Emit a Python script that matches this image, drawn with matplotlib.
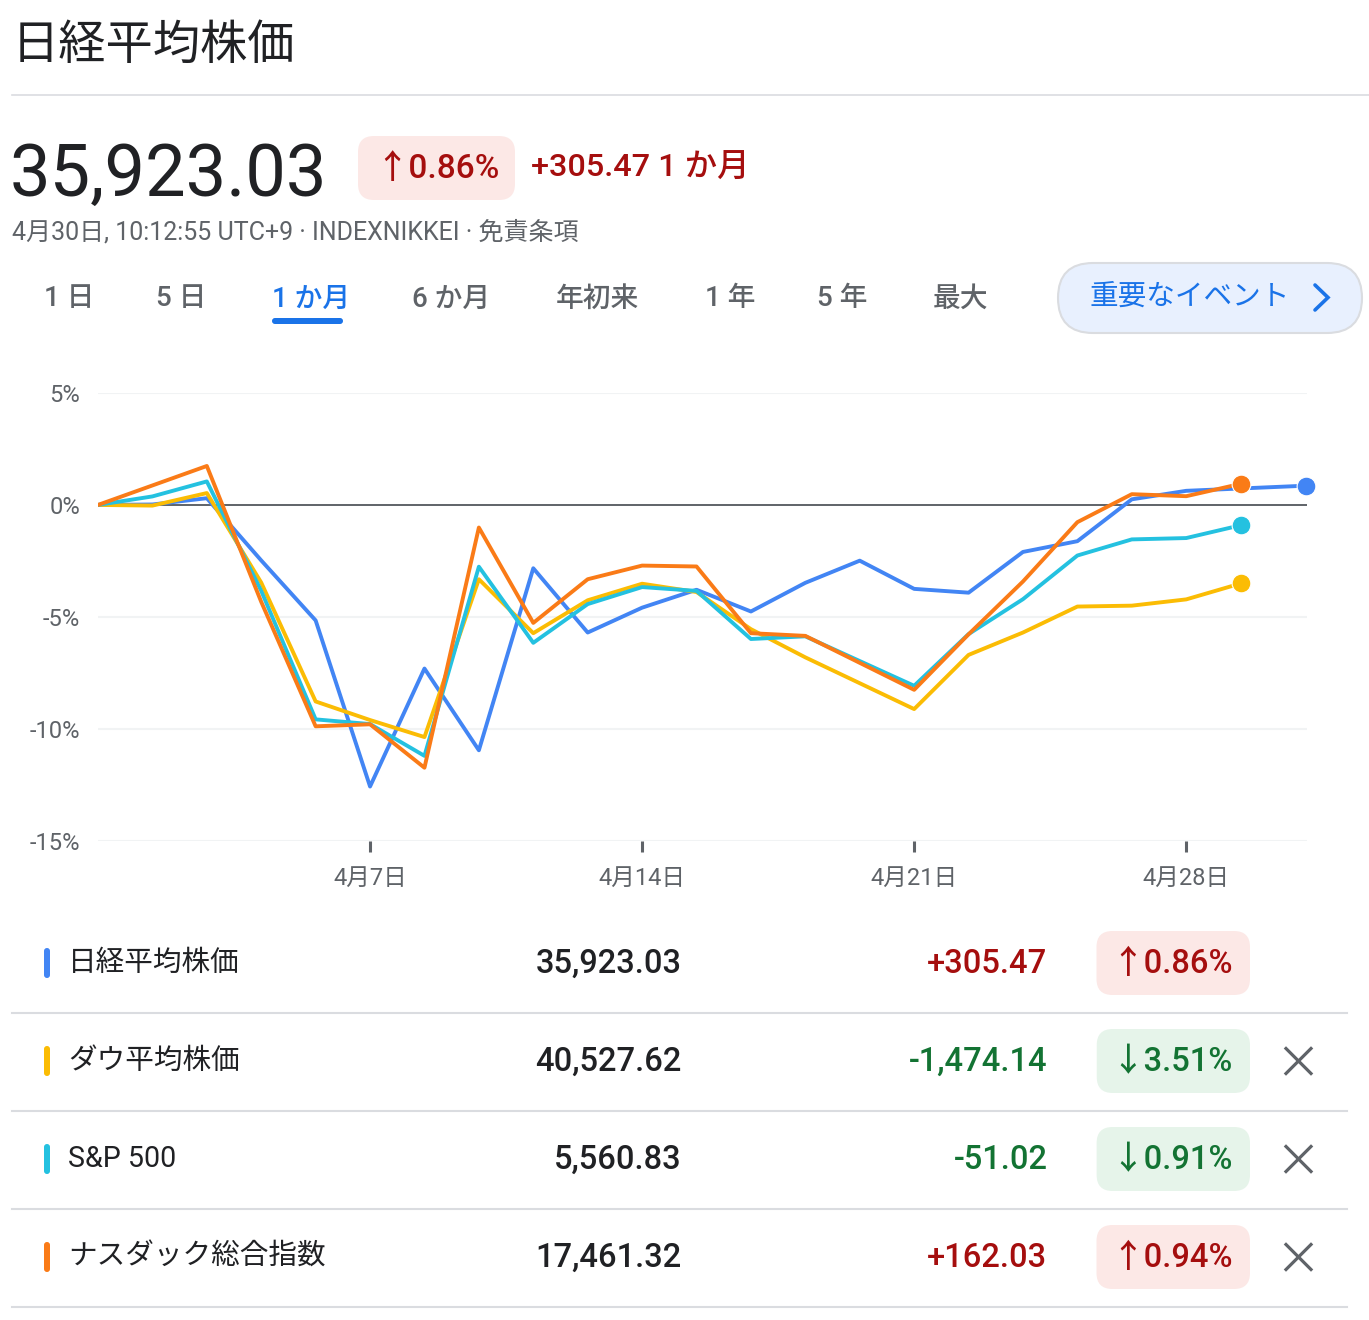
import matplotlib
matplotlib.use("Agg")
import matplotlib.pyplot as plt
from matplotlib.patches import FancyBboxPatch

plt.rcParams['font.family'] = ['Roboto', 'Noto Sans CJK JP', 'DejaVu Sans']

# --- データ (1か月, 3/31 比の騰落率 %) ---
nikkei_x = [0, 1, 2, 3, 4, 5, 6, 7, 8, 9, 10, 11, 12, 13, 14, 15, 16, 17, 18, 19, 20, 22.2]
nikkei = [0, 0.02, 0.30, -2.48, -5.16, -12.58, -7.31, -10.96, -2.83, -5.70, -4.59,
          -3.79, -4.76, -3.48, -2.49, -3.75, -3.92, -2.10, -1.62, 0.25, 0.63, 0.86]

us_x = [0, 1, 2, 3, 4, 5, 6, 7, 8, 9, 10, 11, 12, 13, 15, 16, 17, 18, 19, 20, 21]
dow = [0, -0.03, 0.53, -3.47, -8.78, -9.61, -10.37, -3.32, -5.73, -4.26, -3.52,
       -3.89, -5.55, -6.81, -9.12, -6.70, -5.70, -4.54, -4.50, -4.22, -3.51]
sp500 = [0, 0.38, 1.05, -3.84, -9.58, -9.79, -11.21, -2.76, -6.16, -4.43, -3.67,
         -3.84, -5.99, -5.87, -8.08, -5.77, -4.21, -2.26, -1.54, -1.48, -0.91]
nasdaq = [0, 0.87, 1.74, -4.33, -9.89, -9.80, -11.74, -1.01, -5.27, -3.32, -2.71,
          -2.75, -5.73, -5.85, -8.26, -5.78, -3.42, -0.77, 0.48, 0.39, 0.94]

yticks = [5, 0, -5, -10, -15]
ytick_labels = ['5%', '0%', '-5%', '-10%', '-15%']
xticks = [5, 10, 15, 20]
xtick_labels = ['4月7日', '4月14日', '4月21日', '4月28日']

tabs = ['1 日', '5 日', '1 か月', '6 か月', '年初来', '1 年', '5 年', '最大']

names = ['日経平均株価', 'ダウ平均株価', 'S&P 500', 'ナスダック総合指数']
prices = ['35,923.03', '40,527.62', '5,560.83', '17,461.32']
changes = ['+305.47', '-1,474.14', '-51.02', '+162.03']
pcts = ['0.86%', '3.51%', '0.91%', '0.94%']
ups = [True, False, False, True]
removable = [False, True, True, True]

BLUE = '#4285f4'
YELLOW = '#fbbc04'
CYAN = '#24c1e0'
ORANGE = '#fa7b17'
series_colors = [BLUE, YELLOW, CYAN, ORANGE]
RED = '#a50e0e'
GREEN = '#137333'
GREY = '#5f6368'
DARK = '#202124'

W, H = 1369, 1320
fig = plt.figure(figsize=(W / 100, H / 100), dpi=100)
fig.patch.set_facecolor('white')

# overlay in pixel coords (y down)
ov = fig.add_axes([0, 0, 1, 1])
ov.set_xlim(0, W)
ov.set_ylim(H, 0)
ov.axis('off')


def pill(x0, y0, x1, y1, r, fc, ec='none', lw=0):
    p = FancyBboxPatch((x0, y0), x1 - x0, y1 - y0,
                       boxstyle=f"round,pad=0,rounding_size={r}",
                       fc=fc, ec=ec, lw=lw)
    ov.add_patch(p)
    return p


# ヘッダー
ov.text(12, 46, '日経平均株価', fontsize=34, color=DARK, va='center', ha='left')
ov.plot([12, W], [95, 95], color='#dadce0', lw=1.2)

ov.text(10, 176, '35,923.03', fontsize=52, color=DARK, va='center', ha='left')
pill(358, 136, 515, 200, 16, '#fce8e6')
ov.text(437, 169, '↑0.86%', fontsize=24, color=RED, va='center', ha='center',
        fontweight='medium')
ov.text(531, 168, '+305.47 1 か月', fontsize=23.3, color=RED, va='center', ha='left',
        fontweight='medium')
ov.text(12, 232, '4月30日, 10:12:55 UTC+9 · INDEXNIKKEI · 免責条項', fontsize=18,
        color=GREY, va='center', ha='left')

# タブ
tab_x = [44, 156, 272, 412, 556, 705, 817, 933]
for i, (t, x) in enumerate(zip(tabs, tab_x)):
    c = '#1a73e8' if i == 2 else GREY
    ov.text(x, 299, t, fontsize=20, color=c, va='center', ha='left', fontweight='medium')
pill(272, 318, 343, 324, 3, '#1a73e8')

pill(1058, 263, 1362, 333, 35, '#e8f0fe', ec='#dadce0', lw=1.5)
ov.text(1090, 297, '重要なイベント', fontsize=20.6, color='#1a73e8', va='center', ha='left')
ov.plot([1315, 1328, 1315], [285, 297.5, 310], color='#1a73e8', lw=2.6,
        solid_capstyle='round', solid_joinstyle='miter')

# チャート
ax = fig.add_axes([98 / W, 1 - 840.7 / H, (1307 - 98) / W, (840.7 - 393) / H])
ax.set_facecolor('none')
ax.set_xlim(0, 22.22)
ax.set_ylim(-15, 5)
for y in yticks:
    if y == 0:
        ax.axhline(y, color=GREY, lw=1.4, zorder=1)
    else:
        ax.axhline(y, color='#f1f3f4', lw=1.5, zorder=0)

ax.plot(nikkei_x, nikkei, color=BLUE, lw=2.8, zorder=3)
ax.plot(us_x, dow, color=YELLOW, lw=2.8, zorder=4)
ax.plot(us_x, sp500, color=CYAN, lw=2.8, zorder=5)
ax.plot(us_x, nasdaq, color=ORANGE, lw=2.8, zorder=6)
for xs, ys, c, z in [(nikkei_x, nikkei, BLUE, 3), (us_x, dow, YELLOW, 4),
                     (us_x, sp500, CYAN, 5), (us_x, nasdaq, ORANGE, 6)]:
    ax.plot(xs[-1], ys[-1], 'o', color=c, ms=13.5, mec='white', mew=0.8,
            clip_on=False, zorder=z)

for s in ax.spines.values():
    s.set_visible(False)
ax.set_yticks(yticks)
ax.set_yticklabels(ytick_labels)
ax.set_xticks(xticks)
ax.set_xticklabels(xtick_labels)
ax.tick_params(axis='y', length=0, pad=13, labelsize=17, labelcolor=GREY)
ax.tick_params(axis='x', length=8, width=2.2, color=GREY, direction='out', pad=11,
               labelsize=17, labelcolor=GREY)

# 凡例テーブル
fig.canvas.draw()
renderer = fig.canvas.get_renderer()
row_y = [963, 1061, 1159, 1257]
for i in range(4):
    y = row_y[i]
    pill(44, y - 15, 50, y + 15, 3, series_colors[i])
    ov.text(68, y, names[i], fontsize=20.6, color=DARK, va='center', ha='left')
    ov.text(682, y + 1, prices[i], fontsize=23.5, color=DARK, va='center', ha='right',
            fontweight='medium')
    col = RED if ups[i] else GREEN
    bg = '#fce8e6' if ups[i] else '#e6f4ea'
    arrow = '↑' if ups[i] else '↓'
    t = ov.text(1233, y + 1, arrow + pcts[i], fontsize=23.5, color=col, va='center',
                ha='right', fontweight='medium')
    bb = t.get_window_extent(renderer)
    left = 1233 - bb.width - 15
    pill(left, y - 32, 1250, y + 32, 16, bg)
    ov.text(left - 49, y + 1, changes[i], fontsize=23.5, color=col, va='center',
            ha='right', fontweight='medium')
    if removable[i]:
        ov.plot([1286, 1311], [y - 12.5, y + 12.5], color=GREY, lw=2.3)
        ov.plot([1286, 1311], [y + 12.5, y - 12.5], color=GREY, lw=2.3)
    ov.plot([12, 1347], [y + 50, y + 50], color='#dadce0', lw=1.5)

fig.savefig('out.png', dpi=100, facecolor='white')
